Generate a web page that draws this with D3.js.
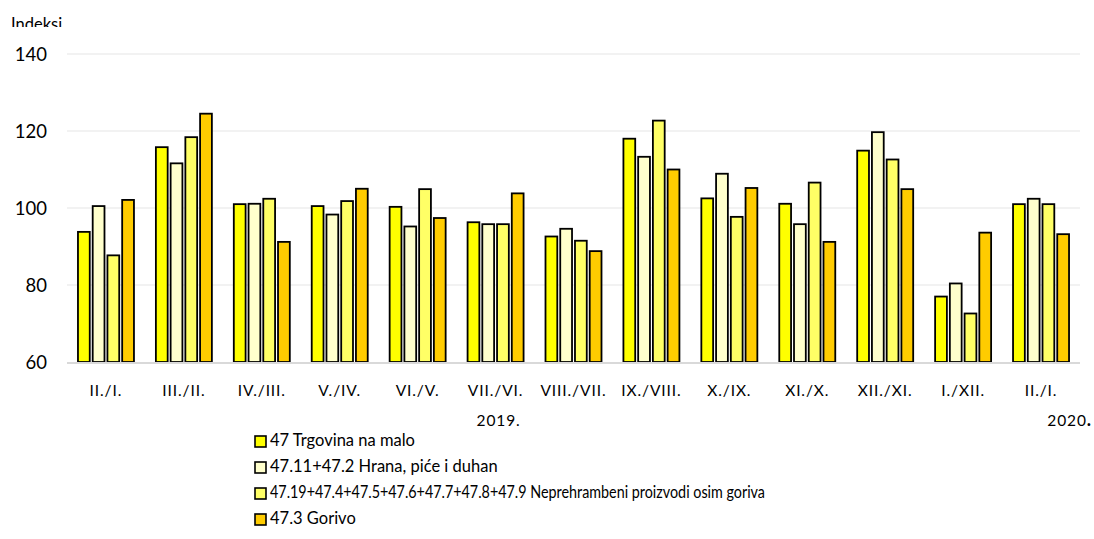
<!DOCTYPE html>
<html><head><meta charset="utf-8">
<script src="https://cdn.jsdelivr.net/npm/d3@7/dist/d3.min.js"></script>
<style>body{margin:0;background:#fff}svg{display:block}text{font-family:Lato,"Open Sans",sans-serif;fill:#000}</style>
</head><body><svg id="c" width="1094" height="539"></svg>
<script>
const categories = ["II./I.","III./II.","IV./III.","V./IV.","VI./V.","VII./VI.","VIII./VII.","IX./VIII.","X./IX.","XI./X.","XII./XI.","I./XII.","II./I."];
const seriesNames = ["47 Trgovina na malo","47.11+47.2 Hrana, piće i duhan","47.19+47.4+47.5+47.6+47.7+47.8+47.9 Neprehrambeni proizvodi osim goriva","47.3 Gorivo"];
const trgovina = [93.8,115.8,101.0,100.5,100.3,96.3,92.6,118.0,102.5,101.1,114.9,77.0,101.0];
const hrana = [100.5,111.6,101.1,98.3,95.2,95.8,94.6,113.3,108.9,95.8,119.7,80.4,102.4];
const neprehrambeni = [87.7,118.4,102.4,101.8,104.9,95.8,91.5,122.7,97.7,106.6,112.6,72.6,101.0];
const gorivo = [102.1,124.5,91.2,105.0,97.4,103.8,88.8,110.0,105.2,91.2,104.9,93.6,93.2];
const yTicks = [60,80,100,120,140];
const colors = ["#FFFF00","#FFFFCC","#FFFF66","#FFCC00"];
const series = [trgovina,hrana,neprehrambeni,gorivo];

(function(){
const svg = d3.select("#c");
const mL = 67, mR = 1080, mT = 54, mB = 362;
const x = d3.scaleBand().domain(d3.range(categories.length)).range([mL,mR]).paddingInner(0).paddingOuter(0);
const y = d3.scaleLinear().domain([60,140]).range([mB,mT]);
const xs = d3.scaleBand().domain(d3.range(4)).range([0,56]).paddingInner(0.2);
const offset = (x.bandwidth()-56)/2;

svg.append("g").selectAll("line").data(yTicks.slice(1)).join("line")
  .attr("x1",mL).attr("x2",mR).attr("y1",d=>y(d)).attr("y2",d=>y(d))
  .attr("stroke","#eeeeee").attr("stroke-width",1.5);
svg.append("g").selectAll("text").data(yTicks).join("text")
  .attr("x",47).attr("y",d=>y(d)+6.5).attr("text-anchor","end").attr("font-size",18.5).text(d=>d);

svg.append("defs").append("clipPath").attr("id","clipT").append("rect")
  .attr("x",0).attr("y",0).attr("width",200).attr("height",27);
svg.append("text").attr("x",11).attr("y",30).attr("font-size",16.5)
  .attr("clip-path","url(#clipT)").text("Indeksi");

const g = svg.append("g");
series.forEach((s,si)=>{
  g.selectAll(null).data(s).join("rect")
    .attr("x",(d,i)=>x(i)+offset+xs(si))
    .attr("y",d=>y(d))
    .attr("width",xs.bandwidth())
    .attr("height",d=>y(60)-y(d))
    .attr("fill",colors[si]).attr("stroke","#000").attr("stroke-width",1.8);
});
svg.append("line").attr("x1",mL).attr("x2",mR).attr("y1",y(60)+1).attr("y2",y(60)+1)
  .attr("stroke","#d9d9d9").attr("stroke-width",2);

svg.append("g").selectAll("text").data(categories).join("text")
  .attr("x",(d,i)=>x(i)+x.bandwidth()/2).attr("y",396).attr("text-anchor","middle")
  .attr("font-size",15.5).attr("letter-spacing",0.9).text(d=>d);
svg.append("text").attr("x",x(5)+x.bandwidth()/2+3).attr("y",426).attr("text-anchor","middle")
  .attr("font-size",15.5).attr("letter-spacing",0.9).text("2019.");
const t20 = svg.append("text").attr("x",1092).attr("y",426).attr("text-anchor","end")
  .attr("font-size",15.5).attr("letter-spacing",0.9);
t20.append("tspan").text("2020");
t20.append("tspan").attr("font-weight","bold").attr("font-size",18).text(".");

const lg = svg.append("g");
seriesNames.forEach((n,i)=>{
  const yy = 446 + i*26;
  lg.append("rect").attr("x",255).attr("y",yy-10).attr("width",11).attr("height",11)
    .attr("fill",colors[i]).attr("stroke","#000").attr("stroke-width",1.6);
  const t = lg.append("text").attr("x",270).attr("y",yy).attr("font-size",16.5).text(n);
  if (n.length > 60) t.attr("textLength",495).attr("lengthAdjust","spacingAndGlyphs");
});
})();
</script></body></html>
